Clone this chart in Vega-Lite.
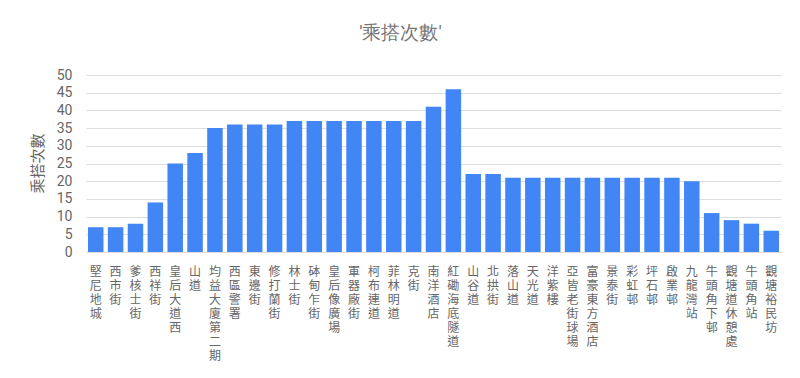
{
  "$schema": "https://vega.github.io/schema/vega-lite/v6.json",
  "width": 695,
  "height": 177,
  "autosize": {"type": "none"},
  "padding": {"left": 86, "top": 75, "right": 19, "bottom": 126},
  "background": "white",
  "title": {
    "text": "'乘搭次數'",
    "font": "Roboto",
    "fontSize": 19,
    "fontWeight": "normal",
    "color": "#757575",
    "anchor": "middle",
    "offset": 25,
    "dx": -33
  },
  "data": {
    "values": [
      {"stop": "堅尼地城", "count": 7},
      {"stop": "西市街", "count": 7},
      {"stop": "爹核士街", "count": 8},
      {"stop": "西祥街", "count": 14},
      {"stop": "皇后大道西", "count": 25},
      {"stop": "山道", "count": 28},
      {"stop": "均益大廈第二期", "count": 35},
      {"stop": "西區警署", "count": 36},
      {"stop": "東邊街", "count": 36},
      {"stop": "修打蘭街", "count": 36},
      {"stop": "林士街", "count": 37},
      {"stop": "砵甸乍街", "count": 37},
      {"stop": "皇后像廣場", "count": 37},
      {"stop": "軍器廠街", "count": 37},
      {"stop": "柯布連道", "count": 37},
      {"stop": "菲林明道", "count": 37},
      {"stop": "克街", "count": 37},
      {"stop": "南洋酒店", "count": 41},
      {"stop": "紅磡海底隧道", "count": 46},
      {"stop": "山谷道", "count": 22},
      {"stop": "北拱街", "count": 22},
      {"stop": "落山道", "count": 21},
      {"stop": "天光道", "count": 21},
      {"stop": "洋紫樓", "count": 21},
      {"stop": "亞皆老街球場", "count": 21},
      {"stop": "富豪東方酒店", "count": 21},
      {"stop": "景泰街", "count": 21},
      {"stop": "彩虹邨", "count": 21},
      {"stop": "坪石邨", "count": 21},
      {"stop": "啟業邨", "count": 21},
      {"stop": "九龍灣站", "count": 20},
      {"stop": "牛頭角下邨", "count": 11},
      {"stop": "觀塘道休憩處", "count": 9},
      {"stop": "牛頭角站", "count": 8},
      {"stop": "觀塘裕民坊", "count": 6}
    ]
  },
  "mark": {"type": "bar", "color": "#4285F4"},
  "encoding": {
    "x": {
      "field": "stop",
      "type": "nominal",
      "sort": null,
      "scale": {"paddingInner": 0.22, "paddingOuter": 0.1},
      "axis": {
        "title": null,
        "labelAngle": 0,
        "labelExpr": "split(datum.label, '')",
        "labelFont": "Noto Sans CJK TC",
        "labelFontSize": 12,
        "labelLineHeight": 14,
        "labelColor": "#666666",
        "labelBaseline": "top",
        "labelAlign": "center",
        "labelPadding": 14,
        "ticks": false,
        "domain": false,
        "labelOverlap": false
      }
    },
    "y": {
      "field": "count",
      "type": "quantitative",
      "scale": {"domain": [0, 50], "nice": false},
      "axis": {
        "title": "乘搭次數",
        "titleFont": "Noto Sans CJK TC",
        "titleFontSize": 15,
        "titleFontWeight": "normal",
        "titleColor": "#666666",
        "titleX": -49,
        "titleY": 88,
        "titleAlign": "center",
        "titleBaseline": "middle",
        "values": [0, 5, 10, 15, 20, 25, 30, 35, 40, 45, 50],
        "labelFont": "Roboto",
        "labelFontSize": 14,
        "labelColor": "#666666",
        "labelPadding": 14,
        "ticks": false,
        "domain": false,
        "gridColor": "#dddddd",
        "grid": true
      }
    }
  },
  "config": {"view": {"stroke": null}}
}
